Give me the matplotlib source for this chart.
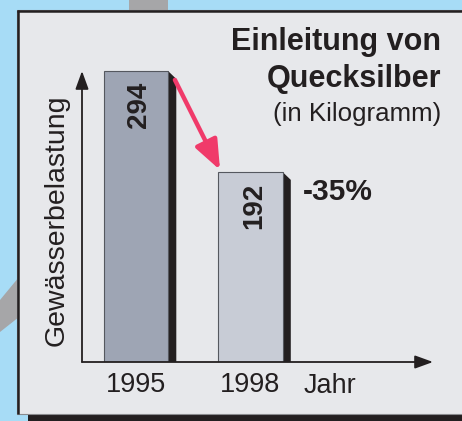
import matplotlib
matplotlib.use("Agg")
import matplotlib.pyplot as plt
from matplotlib.patches import Rectangle, Polygon

plt.rcParams['font.family'] = ['Liberation Sans', 'DejaVu Sans']

# data
jahre = ["1995", "1998"]
werte = [294, 192]
titel = ["Einleitung von", "Quecksilber"]
untertitel = "(in Kilogramm)"
y_titel = "Gewässerbelastung"
x_titel = "Jahr"

aenderung = round((werte[1] - werte[0]) / werte[0] * 100)

# colours
BLAU = "#a7dcf6"
GRAU = "#a6a6a8"
PANEL = "#e7e8eb"
DUNKEL = "#231f20"
BAR_FARBEN = ["#9ea5b4", "#c8ccd6"]
PINK = "#f03a6a"

W, H = 462, 421
fig = plt.figure(figsize=(W / 100, H / 100), dpi=100)
fig.patch.set_facecolor(BLAU)

# background decorations in pixel coords
bg = fig.add_axes([0, 0, 1, 1], zorder=0)
bg.set_xlim(0, W)
bg.set_ylim(H, 0)
bg.axis("off")
bg.add_patch(Rectangle((129, 0), 39, 12, color=GRAU, lw=0))
bg.add_patch(Polygon([(0, 300), (19, 277), (19, 317), (0, 332)], color=GRAU, lw=0))
bg.add_patch(Rectangle((28, 412), W - 28, 10, color=DUNKEL, lw=0))
bg.add_patch(Rectangle((17, 10), W, 404, facecolor=PANEL, edgecolor="#8a8b8e", lw=0.8))
bg.plot([17, W], [10.5, 10.5], color=DUNKEL, lw=1.8, solid_capstyle="butt")
bg.plot([17.5, 17.5], [10, 414], color=DUNKEL, lw=1.8, solid_capstyle="butt")

bg.text(441, 50, titel[0], ha="right", va="baseline", fontsize=22, fontweight="bold", color=DUNKEL)
bg.text(441, 87, titel[1], ha="right", va="baseline", fontsize=22, fontweight="bold", color=DUNKEL)
bg.text(441, 121, untertitel, ha="right", va="baseline", fontsize=18.6, color=DUNKEL)

# chart axes
ax = fig.add_axes([82 / W, (H - 362) / H, 351 / W, 300 / H], zorder=1)
ax.set_facecolor("none")
ax.set_xlim(-0.4716, 2.594)
ax.set_ylim(0, 303.1)
for s in ax.spines.values():
    s.set_visible(False)
ax.set_yticks([])

x = list(range(len(werte)))
bw = 0.56
sw = 0.072  # shadow width
bars = ax.bar(x, werte, width=bw, color=BAR_FARBEN, edgecolor="#55585f", linewidth=0.8, zorder=3)
for xi, v in zip(x, werte):
    r = xi + bw / 2
    ax.add_patch(Polygon([(r, v), (r + sw, v - 8), (r + sw, 0), (r, 0)],
                         closed=True, color=DUNKEL, lw=0, zorder=2))
    ax.text(xi + 0.03, v - 11, str(v), rotation=90, ha="center", va="top",
            fontsize=20, fontweight="bold", color=DUNKEL, zorder=4)

ax.set_xticks(x, jahre)
ax.tick_params(axis="x", length=0, pad=7, labelsize=19.5, labelcolor=DUNKEL)
ax.text(1.69, -0.103, x_titel, transform=ax.get_xaxis_transform(), ha="center",
        va="baseline", fontsize=19.5, color=DUNKEL)

ax.set_ylabel(y_titel, fontsize=20.5, color=DUNKEL)
ax.yaxis.set_label_coords(-0.034, 0.473)

# axis arrows
ax.annotate("", xy=(-0.4716, werte[0]), xytext=(-0.4716, 0), xycoords="data",
            arrowprops=dict(arrowstyle="-|>,head_length=1.1,head_width=0.4", color=DUNKEL,
                            lw=1.3, shrinkA=0, shrinkB=0, mutation_scale=10), zorder=5)
ax.annotate("", xy=(1, 0), xytext=(0, 0), xycoords="axes fraction",
            arrowprops=dict(arrowstyle="-|>,head_length=1.1,head_width=0.4", color=DUNKEL,
                            lw=1.3, shrinkA=0, shrinkB=0, mutation_scale=10), zorder=5)

# pink change arrow
ax.annotate("", xy=(1 - bw / 2 + 0.014, werte[1] + 2), xytext=(bw / 2 + 0.06, werte[0] - 9),
            arrowprops=dict(arrowstyle="-|>,head_length=1.8,head_width=0.72", color=PINK,
                            lw=3.2, shrinkA=0, shrinkB=0, mutation_scale=10), zorder=6)
ax.text(1.459, werte[1] - 28, f"{aenderung}%", ha="left", va="baseline",
        fontsize=21.5, fontweight="bold", color=DUNKEL)

fig.savefig("out.png", dpi=100, facecolor=fig.get_facecolor())
